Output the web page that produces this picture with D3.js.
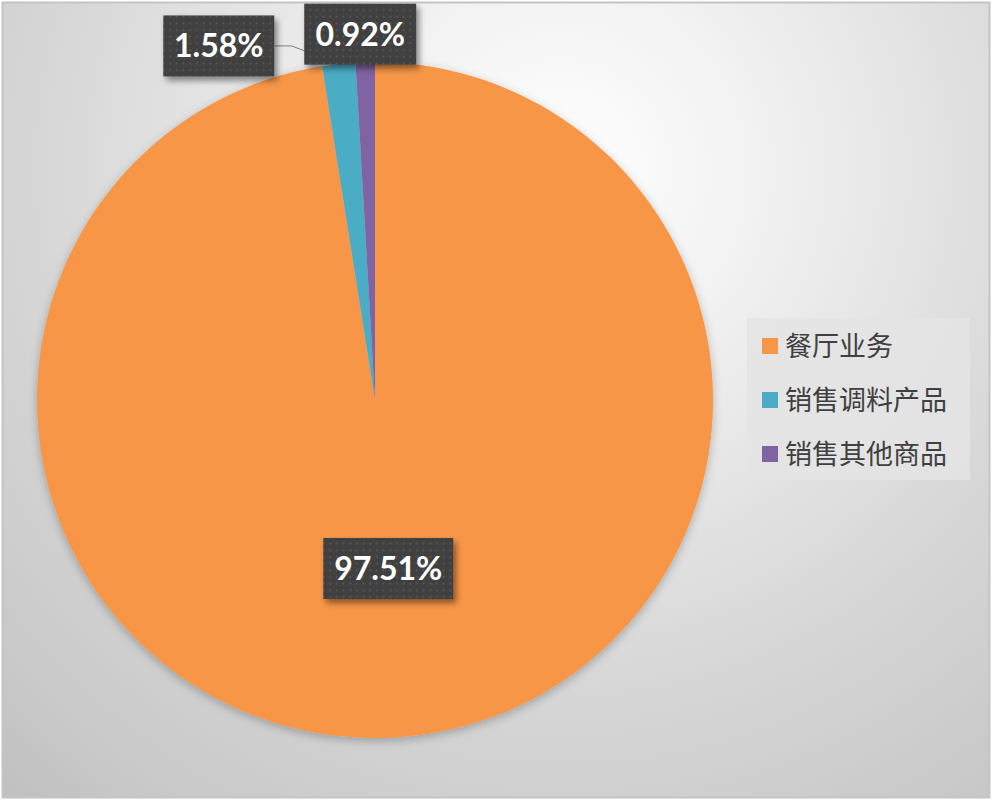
<!DOCTYPE html>
<html><head><meta charset="utf-8">
<script src="https://cdn.jsdelivr.net/npm/d3@7"></script>
<style>html,body{margin:0;padding:0;background:#fff;}svg{display:block;}</style>
</head><body>
<svg id="chart" width="993" height="801"></svg>
<script>
const categories = ["餐厅业务", "销售调料产品", "销售其他商品"];
const values = [97.51, 1.58, 0.92];
const labels = ["97.51%", "1.58%", "0.92%"];
const colors = ["#F79646", "#4BACC6", "#8064A2"];

const W = 993, H = 801;
const svg = d3.select("#chart");
const defs = svg.append("defs");

const bg = defs.append("radialGradient").attr("id","bg").attr("gradientUnits","userSpaceOnUse")
  .attr("cx",560).attr("cy",170).attr("r",880);
[[0,"#ffffff"],[0.25,"#f0f0f0"],[0.6,"#d6d6d6"],[0.85,"#c8c8c8"],[1,"#bcbcbc"]].forEach(s=>
  bg.append("stop").attr("offset",s[0]).attr("stop-color",s[1]));

const pat = defs.append("pattern").attr("id","dots").attr("patternUnits","userSpaceOnUse")
  .attr("width",6.67).attr("height",6.67);
pat.append("rect").attr("width",6.67).attr("height",6.67).attr("fill","#404040");
pat.append("rect").attr("x",2.5).attr("y",2.5).attr("width",1.7).attr("height",1.7).attr("fill","#5e5e5e");

const sh = defs.append("filter").attr("id","shadow").attr("x","-20%").attr("y","-20%").attr("width","150%").attr("height","160%");
sh.append("feDropShadow").attr("dx",3).attr("dy",4).attr("stdDeviation",3).attr("flood-color","#000").attr("flood-opacity",0.45);
const psh = defs.append("filter").attr("id","pshadow").attr("x","-10%").attr("y","-10%").attr("width","120%").attr("height","125%");
psh.append("feDropShadow").attr("dx",0).attr("dy",3).attr("stdDeviation",5).attr("flood-color","#000").attr("flood-opacity",0.25);

// background & border
svg.append("rect").attr("x",2.5).attr("y",2.5).attr("width",W-6).attr("height",H-6)
  .attr("fill","url(#bg)").attr("stroke","#c4c4c4").attr("stroke-width",2);

const cx = 375, cy = 400, R = 338;
const g = svg.append("g").attr("transform",`translate(${cx},${cy})`);
const pie = d3.pie().sort(null).value(d=>d)(values);
const arc = d3.arc().innerRadius(0).outerRadius(R);

g.append("g").attr("filter","url(#pshadow)").selectAll("path").data(pie).join("path")
  .attr("d",arc).attr("fill",(d,i)=>colors[i]);

// labels
function drawLabel(x, y, text, w) {
  const h = 61;
  const lg = svg.append("g");
  lg.append("rect").attr("x",x-w/2).attr("y",y-h/2).attr("width",w).attr("height",h)
    .attr("fill","url(#dots)").attr("filter","url(#shadow)");
  lg.append("text").attr("x",x).attr("y",y).attr("dy","0.36em").attr("text-anchor","middle")
    .attr("font-family","Lato, 'Open Sans', sans-serif").attr("font-weight",700)
    .attr("font-size",32).attr("fill","#fff").text(text);
  return lg;
}
const mid = d => (d.startAngle + d.endAngle)/2;
const pt = (a, r) => [cx + r*Math.sin(a), cy - r*Math.cos(a)];

// main slice label at half radius
const p0 = pt(mid(pie[0]), R*0.5);
drawLabel(p0[0], p0[1], labels[0], 130);

// blue slice: outside with leader
const a1 = mid(pie[1]);
const e1 = pt(a1, R);
const l1 = [e1[0]-120, e1[1]-18];
svg.append("path").attr("fill","none").attr("stroke","#7f7f7f").attr("stroke-width",1)
  .attr("d", d3.line()([[l1[0]+56, l1[1]], [l1[0]+73, l1[1]], [e1[0], e1[1]]]));
drawLabel(l1[0], l1[1], labels[1], 111);

// purple slice
const a2 = mid(pie[2]);
const e2 = pt(a2, R);
drawLabel(e2[0]-5, e2[1]-28, labels[2], 112);

// legend
const leg = svg.append("g");
leg.append("rect").attr("x",747).attr("y",318).attr("width",223).attr("height",162)
  .attr("fill","#e4e4e4").attr("opacity",0.85);
const ly = d3.scalePoint().domain(categories).range([346, 454]);
categories.forEach((c,i)=>{
  leg.append("rect").attr("x",762).attr("y",ly(c)-8).attr("width",16).attr("height",16).attr("fill",colors[i]);
  leg.append("text").attr("x",785).attr("y",ly(c)).attr("dy","0.36em")
    .attr("font-family","'Noto Sans CJK SC', sans-serif").attr("font-size",27)
    .attr("fill","#404040").text(c);
});
</script>
</body></html>
